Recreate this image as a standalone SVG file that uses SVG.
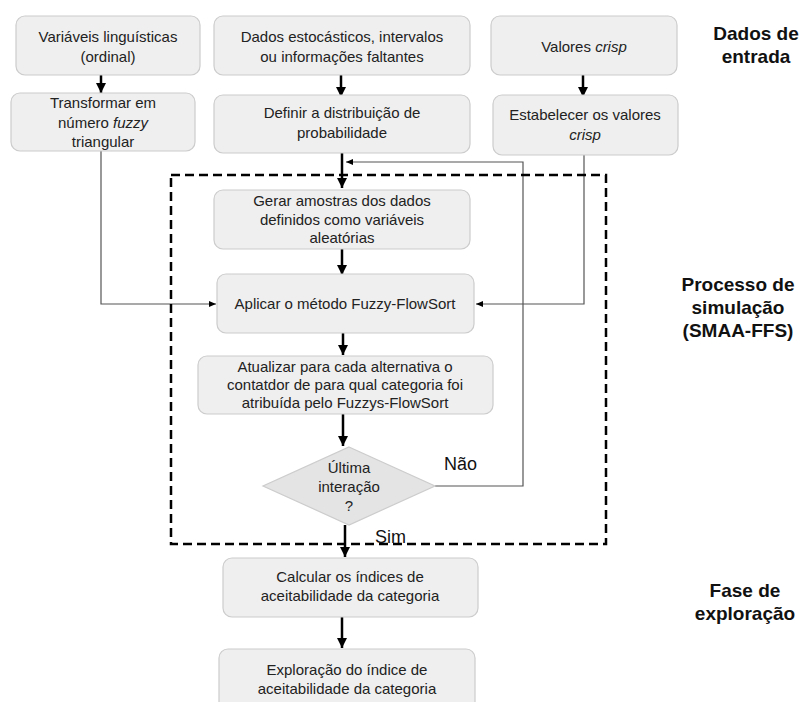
<svg xmlns="http://www.w3.org/2000/svg" width="803" height="702" viewBox="0 0 803 702">
<style>
.box{fill:#efefef;stroke:#cccccc;stroke-width:1.2}
.t{font-family:"Liberation Sans",Arial,sans-serif;font-size:15px;fill:#222;text-anchor:middle}
.lab{font-family:"Liberation Sans",Arial,sans-serif;font-size:19px;font-weight:bold;fill:#111;text-anchor:middle}
.yn{font-family:"Liberation Sans",Arial,sans-serif;font-size:18px;fill:#111}
.thick{stroke:#000;stroke-width:2.5;fill:none}
.thin{stroke:#555;stroke-width:1.2;fill:none}
</style>
<defs>
<marker id="ah" markerUnits="userSpaceOnUse" markerWidth="12" markerHeight="12" viewBox="0 0 12 12" refX="10" refY="6" orient="auto">
<path d="M0,1 L10,6 L0,11 Z" fill="#000"/>
</marker>
<marker id="as" markerUnits="userSpaceOnUse" markerWidth="8" markerHeight="8" viewBox="0 0 8 8" refX="7" refY="4" orient="auto">
<path d="M0,1 L7,4 L0,7 Z" fill="#000"/>
</marker>
</defs>
<rect width="803" height="702" fill="#fff"/>

<g id="connectors">
<line class="thick" x1="101" y1="75" x2="101" y2="93" marker-end="url(#ah)"/>
<line class="thick" x1="341" y1="75" x2="341" y2="97" marker-end="url(#ah)"/>
<line class="thick" x1="583" y1="75" x2="583" y2="97" marker-end="url(#ah)"/>
<line class="thick" x1="342" y1="153" x2="342" y2="188" marker-end="url(#ah)"/>
<line class="thick" x1="342" y1="249" x2="342" y2="275" marker-end="url(#ah)"/>
<line class="thick" x1="343" y1="324" x2="343" y2="355" marker-end="url(#ah)"/>
<line class="thick" x1="343" y1="414" x2="343" y2="446" marker-end="url(#ah)"/>
<line class="thick" x1="345" y1="525" x2="345" y2="557" marker-end="url(#ah)"/>
<line class="thick" x1="342" y1="617" x2="342" y2="648" marker-end="url(#ah)"/>
<path class="thin" d="M101,151 V304 H216" marker-end="url(#as)"/>
<path class="thin" d="M584,155 V304 H476" marker-end="url(#as)"/>
<path class="thin" d="M435,486 H523 V162 H346" marker-end="url(#as)"/>
</g>

<g id="simulation-frame">
<rect x="171" y="175" width="435" height="369" fill="none" stroke="#000" stroke-width="2.5" stroke-dasharray="9,5"/>
</g>

<g id="n1"><rect class="box" x="16" y="16" width="184" height="59" rx="9"/>
<text class="t" x="108" y="42">Variáveis linguísticas</text>
<text class="t" x="108" y="62">(ordinal)</text></g>

<g id="n2"><rect class="box" x="214" y="16" width="256" height="59" rx="9"/>
<text class="t" x="342" y="42">Dados estocásticos, intervalos</text>
<text class="t" x="342" y="62">ou informações faltantes</text></g>

<g id="n3"><rect class="box" x="491" y="16" width="186" height="59" rx="9"/>
<text class="t" x="584" y="52">Valores <tspan font-style="italic">crisp</tspan></text></g>

<g id="n4"><rect class="box" x="11" y="93" width="184" height="58" rx="9"/>
<text class="t" x="103" y="108">Transformar em</text>
<text class="t" x="103" y="128">número <tspan font-style="italic">fuzzy</tspan></text>
<text class="t" x="103" y="147">triangular</text></g>

<g id="n5"><rect class="box" x="214" y="95" width="256" height="58" rx="9"/>
<text class="t" x="342" y="118">Definir a distribuição de</text>
<text class="t" x="342" y="138">probabilidade</text></g>

<g id="n6"><rect class="box" x="493" y="95" width="185" height="60" rx="9"/>
<text class="t" x="585" y="120">Estabelecer os valores</text>
<text class="t" x="585" y="140" font-style="italic">crisp</text></g>

<g id="n7"><rect class="box" x="214" y="190" width="256" height="59" rx="9"/>
<text class="t" x="342" y="206">Gerar amostras dos dados</text>
<text class="t" x="342" y="225">definidos como variáveis</text>
<text class="t" x="342" y="243">aleatórias</text></g>

<g id="n8"><rect class="box" x="217" y="274" width="257" height="59" rx="9"/>
<text class="t" x="345" y="309">Aplicar o método Fuzzy-FlowSort</text></g>

<g id="n9"><rect class="box" x="198" y="356" width="295" height="58" rx="9"/>
<text class="t" x="345" y="372">Atualizar para cada alternativa o</text>
<text class="t" x="345" y="390">contatdor de para qual categoria foi</text>
<text class="t" x="345" y="408">atribuída pelo Fuzzys-FlowSort</text></g>

<g id="n10"><polygon points="349,447 435,486 349,525 263,486" fill="#e4e4e4" stroke="#cccccc" stroke-width="1.2"/>
<text class="t" x="349" y="473">Última</text>
<text class="t" x="349" y="492">interação</text>
<text class="t" x="349" y="511">?</text></g>

<g id="n11"><rect class="box" x="223" y="558" width="255" height="59" rx="9"/>
<text class="t" x="350" y="582">Calcular os índices de</text>
<text class="t" x="350" y="601">aceitabilidade da categoria</text></g>

<g id="n12"><rect class="box" x="219" y="649" width="256" height="62" rx="9"/>
<text class="t" x="347" y="675">Exploração do índice de</text>
<text class="t" x="347" y="694">aceitabilidade da categoria</text></g>

<g id="labels">
<text class="yn" x="444" y="470">Não</text>
<text class="yn" x="375" y="543">Sim</text>
<text class="lab" x="756" y="40">Dados de</text>
<text class="lab" x="756" y="63">entrada</text>
<text class="lab" x="738" y="291">Processo de</text>
<text class="lab" x="738" y="314">simulação</text>
<text class="lab" x="738" y="337">(SMAA-FFS)</text>
<text class="lab" x="745" y="597">Fase de</text>
<text class="lab" x="745" y="620">exploração</text>
</g>
</svg>
